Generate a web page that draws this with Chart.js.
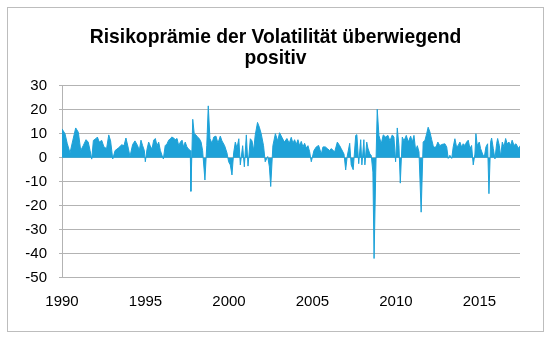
<!DOCTYPE html>
<html>
<head>
<meta charset="utf-8">
<script src="https://cdn.jsdelivr.net/npm/chart.js@4.4.1/dist/chart.umd.min.js"></script>
<style>
html,body{margin:0;padding:0;background:#fff;}
canvas{display:block;}
</style>
</head>
<body>
<canvas id="c" width="550" height="339"></canvas>
<script>
const titleLines = ['Risikoprämie der Volatilität überwiegend', 'positiv'];
const xTickYears = [1990, 1995, 2000, 2005, 2010, 2015];
const yTicks = [30, 20, 10, 0, -10, -20, -30, -40, -50];

const years = [
1990.00,1990.04,1990.18,1990.31,1990.48,1990.64,1990.82,1990.98,1991.12,1991.27,
1991.44,1991.57,1991.68,1991.78,1991.88,1992.04,1992.12,1992.23,1992.38,1992.51,
1992.67,1992.80,1992.91,1993.04,1993.18,1993.37,1993.58,1993.71,1993.83,1993.97,
1994.07,1994.23,1994.37,1994.53,1994.63,1994.73,1994.83,1994.93,1994.99,1995.09,
1995.19,1995.28,1995.39,1995.49,1995.59,1995.69,1995.79,1995.89,1995.99,1996.07,
1996.18,1996.29,1996.39,1996.49,1996.58,1996.69,1996.78,1996.89,1996.99,1997.09,
1997.19,1997.28,1997.38,1997.48,1997.59,1997.68,1997.72,1997.83,1997.92,1998.02,
1998.13,1998.22,1998.33,1998.42,1998.56,1998.67,1998.76,1998.86,1998.98,1999.09,
1999.22,1999.34,1999.48,1999.58,1999.74,1999.88,1999.98,2000.08,2000.18,2000.28,
2000.38,2000.48,2000.59,2000.68,2000.82,2000.92,2001.04,2001.14,2001.28,2001.38,
2001.48,2001.57,2001.71,2001.82,2001.93,2002.07,2002.17,2002.32,2002.42,2002.50,
2002.63,2002.78,2002.92,2003.03,2003.17,2003.32,2003.47,2003.61,2003.73,2003.83,
2003.93,2004.03,2004.13,2004.23,2004.33,2004.43,2004.53,2004.63,2004.73,2004.83,
2004.93,2005.09,2005.23,2005.37,2005.53,2005.63,2005.77,2005.89,2006.03,2006.13,
2006.33,2006.49,2006.63,2006.72,2006.89,2006.99,2007.08,2007.23,2007.32,2007.44,
2007.59,2007.66,2007.77,2007.89,2007.96,2008.08,2008.14,2008.25,2008.32,2008.44,
2008.52,2008.62,2008.69,2008.79,2008.88,2008.98,2009.12,2009.24,2009.38,2009.52,
2009.64,2009.78,2009.88,2009.98,2010.08,2010.18,2010.26,2010.38,2010.48,2010.62,
2010.74,2010.88,2010.98,2011.08,2011.18,2011.28,2011.38,2011.51,2011.63,2011.74,
2011.84,2011.93,2012.04,2012.14,2012.23,2012.34,2012.44,2012.51,2012.63,2012.74,
2012.93,2013.04,2013.13,2013.23,2013.34,2013.43,2013.53,2013.63,2013.73,2013.83,
2013.93,2014.03,2014.13,2014.23,2014.33,2014.43,2014.53,2014.63,2014.73,2014.79,
2014.87,2014.99,2015.07,2015.19,2015.29,2015.39,2015.49,2015.57,2015.67,2015.73,
2015.83,2015.93,2016.03,2016.09,2016.19,2016.27,2016.37,2016.47,2016.57,2016.66,
2016.77,2016.87,2016.96,2017.07,2017.19,2017.29,2017.38,2017.43
];

const premium = [
12,12,10,6,2,7,12.4,10.6,3,5,
7.5,6.5,3,-0.6,7.2,8,8.6,6.5,7.2,4.5,
3.8,9.5,7,-0.5,3,4,5.4,5,8.2,4,
0.5,5.5,7,5,3,7.3,5,3,-1.7,3.5,
6.5,5,3.5,7.3,8,5,6.5,3,1,-0.5,
5,5.8,7.3,8,8.6,8.2,7.5,8,5,6.5,
7.3,4.5,6.5,4.5,3.5,3,-14,16,10,9.5,
8.5,8,6.5,3,-9.3,5,21.6,8,6,8.6,
9,6,9,7,5,2,-1.7,-3,-7.2,2,
6.5,4,7.9,-3,5,-3.8,9.5,-3.5,7.9,7,
3,9.3,14.7,12.7,10,5,-1.7,0.5,-3.8,-12,
5,10,7,10.4,8.5,6.5,8,6,8.5,6,
7.5,5.5,7.5,5,6.8,4.5,6,4,5,2.5,
-1.7,3,4.5,5.1,1.5,4.5,4.5,3.8,3,3.8,
2.4,6.5,5,3.8,1.5,-5.1,0.5,6,-3,-5,
9.3,9.6,-2.5,7.5,-3,7.5,-3,6.5,4,1.5,
1,-6,-42,-6,20.2,9.3,5.8,9.5,8.6,9.3,
7,9.5,8.6,-1.7,12.4,5,-10.6,8.6,7,9.3,
6.5,9,6.5,9.3,3,5,2.4,-22.7,6.5,7.3,
10,12.7,10.6,7.5,5,4,5.2,6.5,5,5.5,
5.8,4.5,-0.3,1,-0.3,4.5,7.9,4.5,5.1,6.5,
4.5,5.8,5.1,6.5,7.3,3.8,5.1,-3,1.5,10,
5.1,6.5,3.8,1.5,0.2,4.5,5.8,-15,6.5,8.2,
3.8,-0.5,5.8,8,5.1,0.5,6.5,4.5,8,5.8,
6.5,5.1,7.3,5.1,5.8,4.5,3.8,5
];

const FONT = '"Liberation Sans", Arial, Helvetica, sans-serif';
const BLUE = '#1ea2d8';
const GRID = '#b3b3b3';

const framePlugin = {
  id: 'frameAndTitle',
  beforeDraw(chart) {
    const ctx = chart.ctx;
    ctx.save();
    ctx.fillStyle = '#fff';
    ctx.fillRect(0, 0, chart.width, chart.height);
    ctx.strokeStyle = '#bdbdbd';
    ctx.lineWidth = 1;
    ctx.strokeRect(7.5, 7.5, 536, 324);
    ctx.restore();
  },
  afterDraw(chart) {
    const ctx = chart.ctx;
    ctx.save();
    ctx.font = 'bold 19.3px ' + FONT;
    ctx.fillStyle = '#000';
    ctx.textAlign = 'center';
    ctx.textBaseline = 'alphabetic';
    titleLines.forEach((t, i) => ctx.fillText(t, 275.5, 42.6 + i * 21.3));
    ctx.restore();
  }
};

new Chart(document.getElementById('c'), {
  type: 'line',
  data: {
    datasets: [{
      data: years.map((x, i) => ({ x: x, y: premium[i] })),
      borderColor: BLUE,
      backgroundColor: BLUE,
      borderWidth: 1,
      fill: 'origin',
      pointRadius: 0,
      tension: 0
    }]
  },
  options: {
    responsive: false,
    animation: false,
    devicePixelRatio: 1,
    layout: { padding: { left: 0, right: 30, top: 85.7, bottom: 0 } },
    plugins: { legend: { display: false }, tooltip: { enabled: false }, title: { display: false } },
    scales: {
      x: {
        type: 'linear',
        min: 1990,
        max: 2017.43,
        afterBuildTicks(s) { s.ticks = xTickYears.map(v => ({ value: v })); },
        afterFit(s) { s.height = 339 - 277.7; },
        grid: { display: false, drawTicks: false },
        border: { display: false },
        ticks: {
          padding: 15, color: '#000', maxRotation: 0, autoSkip: false,
          font: { size: 15, family: FONT },
          callback: v => String(v)
        }
      },
      y: {
        min: -50,
        max: 30,
        afterBuildTicks(s) { s.ticks = yTicks.map(v => ({ value: v })); },
        afterFit(s) { s.width = 62; },
        grid: { color: GRID, lineWidth: 1, tickLength: 3, drawTicks: true },
        border: { color: GRID, width: 1 },
        ticks: {
          padding: 12, color: '#000',
          font: { size: 15, family: FONT },
          callback: v => String(v)
        }
      }
    }
  },
  plugins: [framePlugin]
});
</script>
</body>
</html>
